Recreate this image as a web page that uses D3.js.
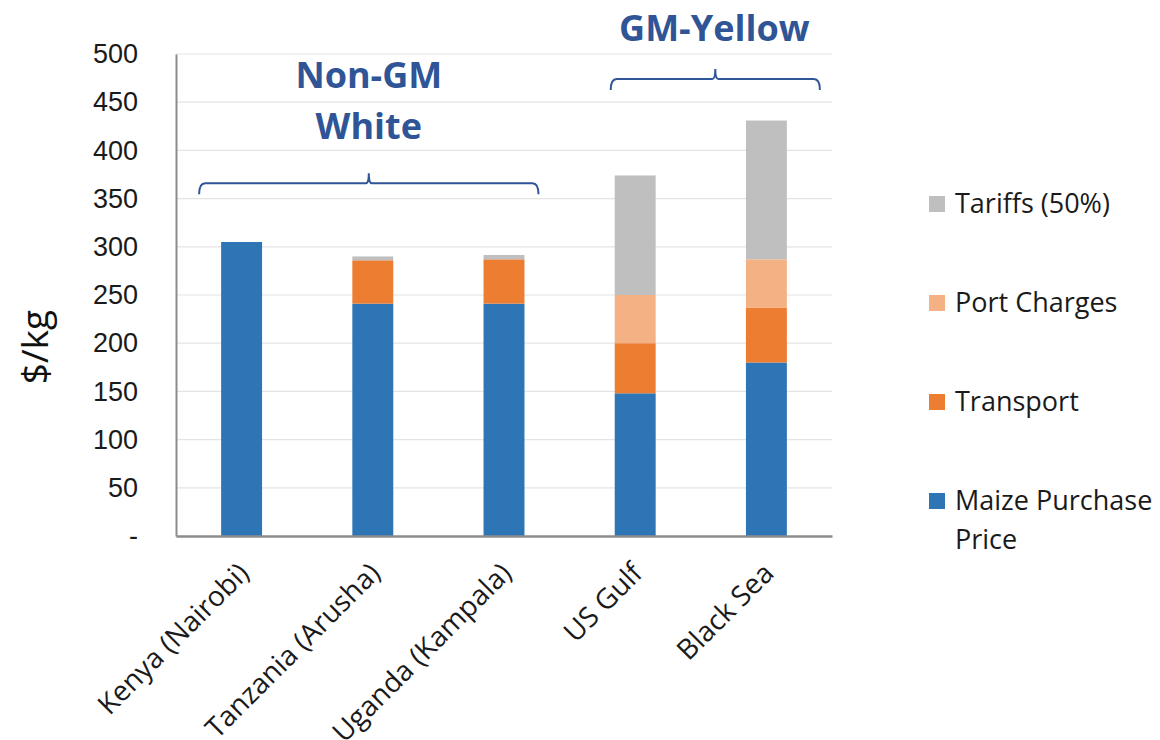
<!DOCTYPE html>
<html>
<head>
<meta charset="utf-8">
<script src="https://cdn.jsdelivr.net/npm/d3@7"></script>
<style>
  html, body { margin: 0; padding: 0; background: #fff; }
  svg { display: block; font-family: "Open Sans", "Noto Sans", sans-serif; }
</style>
</head>
<body>
<svg id="chart" width="1160" height="740"></svg>
<script>
// Landed cost build-up per origin ($/kg)
const categories = ["Kenya (Nairobi)", "Tanzania (Arusha)", "Uganda (Kampala)", "US Gulf", "Black Sea"];
const maizePrice  = [305, 241, 241, 148, 180];
const transport   = [0, 45, 46, 52, 57];
const portCharges = [0, 0, 0, 50, 50];
const tariffs     = [0, 4, 4.5, 124, 144];
const seriesNames = ["Maize Purchase Price", "Transport", "Port Charges", "Tariffs (50%)"];
const seriesColors = ["#2E75B6", "#ED7D31", "#F4B183", "#BFBFBF"];
const yTicks = [0, 50, 100, 150, 200, 250, 300, 350, 400, 450, 500];
const groups = [
  { lines: ["Non-GM", "White"], from: 0, to: 2 },
  { lines: ["GM-Yellow"], from: 3, to: 4 }
];

const svg = d3.select("#chart");
const margin = { left: 176, top: 54, right: 328, bottom: 204 };
const W = 1160 - margin.left - margin.right;
const H = 740 - margin.top - margin.bottom;
const g = svg.append("g").attr("transform", `translate(${margin.left},${margin.top})`);

const rows = categories.map((c, i) => ({
  cat: c,
  "Maize Purchase Price": maizePrice[i],
  "Transport": transport[i],
  "Port Charges": portCharges[i],
  "Tariffs (50%)": tariffs[i]
}));
const stacked = d3.stack().keys(seriesNames)(rows);

const x = d3.scaleBand().domain(categories).range([0, W]).paddingInner(0.688).paddingOuter(0.344);
const y = d3.scaleLinear().domain([0, 500]).range([H, 0]);
const color = d3.scaleOrdinal().domain(seriesNames).range(seriesColors);

// gridlines
g.append("g").selectAll("line").data(yTicks.slice(1)).join("line")
  .attr("x1", 0).attr("x2", W)
  .attr("y1", d => y(d)).attr("y2", d => y(d))
  .attr("stroke", "#E4E4E4").attr("stroke-width", 1.2);

// y axis
const yAxis = g.append("g").call(
  d3.axisLeft(y).tickValues(yTicks).tickSize(0).tickPadding(38)
    .tickFormat(d => d === 0 ? "-" : d)
);
yAxis.select(".domain").attr("stroke", "#8C8C8C").attr("stroke-width", 2);
yAxis.selectAll("text").attr("font-size", 27).attr("fill", "#1a1a1a");

// bars
g.append("g").selectAll("g").data(stacked).join("g")
  .attr("fill", d => color(d.key))
  .selectAll("rect").data(d => d).join("rect")
  .attr("x", d => x(d.data.cat))
  .attr("width", x.bandwidth())
  .attr("y", d => y(d[1]))
  .attr("height", d => Math.max(0, y(d[0]) - y(d[1])));

// x axis
const xAxis = g.append("g").attr("transform", `translate(0,${H})`)
  .call(d3.axisBottom(x).tickSize(0).tickFormat(""));
xAxis.select(".domain").attr("stroke", "#8C8C8C").attr("stroke-width", 2.5);

g.append("g").selectAll("text").data(categories).join("text")
  .attr("transform", d => `translate(${x(d) + x.bandwidth() / 2 + 9},${H + 39}) rotate(-45)`)
  .attr("text-anchor", "end")
  .attr("font-size", 28)
  .attr("fill", "#1a1a1a")
  .text(d => d);

// y title
svg.append("text")
  .attr("transform", `translate(48,${margin.top + y(196)}) rotate(-90)`)
  .attr("text-anchor", "middle")
  .attr("font-size", 37)
  .attr("fill", "#111")
  .text("$/kg");

// group braces and labels
const braceColor = "#2F5597";
function brace(x0, x1, yLine) {
  const xm = (x0 + x1) / 2, r = 6;
  return `M${x0},${yLine + 11} Q${x0},${yLine} ${x0 + r},${yLine}` +
         ` L${xm - 3},${yLine} Q${xm},${yLine} ${xm},${yLine - 10}` +
         ` Q${xm},${yLine} ${xm + 3},${yLine} L${x1 - r},${yLine}` +
         ` Q${x1},${yLine} ${x1},${yLine + 11}`;
}
const braceY = [y(366), y(474)];
const braceExtent = [[-22, 14], [-4, 33]];
const labelY = [[y(478), y(425)], [y(527)]];
groups.forEach((gr, i) => {
  const x0 = x(categories[gr.from]) + braceExtent[i][0];
  const x1 = x(categories[gr.to]) + x.bandwidth() + braceExtent[i][1];
  g.append("path").attr("d", brace(x0, x1, braceY[i]))
    .attr("fill", "none").attr("stroke", braceColor).attr("stroke-width", 2);
  gr.lines.forEach((t, j) => {
    g.append("text")
      .attr("x", (x0 + x1) / 2 - (i === 0 ? 0 : 1))
      .attr("y", labelY[i][j])
      .attr("dy", "0.35em")
      .attr("text-anchor", "middle")
      .attr("font-size", 36).attr("font-weight", "bold")
      .attr("fill", braceColor)
      .text(t);
  });
});

// legend (top to bottom: Tariffs, Port Charges, Transport, Maize Purchase Price)
const legendItems = seriesNames.slice().reverse();
const legendY = [204, 303, 402, 501];
const lg = svg.append("g");
legendItems.forEach((name, i) => {
  lg.append("rect").attr("x", 929).attr("y", legendY[i] - 8).attr("width", 16).attr("height", 16)
    .attr("fill", color(name));
  const words = name === "Maize Purchase Price" ? ["Maize Purchase", "Price"] : [name];
  words.forEach((w, j) => {
    lg.append("text").attr("x", 955).attr("y", legendY[i] + j * 39).attr("dy", "0.35em")
      .attr("font-size", 27).attr("fill", "#1a1a1a").text(w);
  });
});
</script>
</body>
</html>
